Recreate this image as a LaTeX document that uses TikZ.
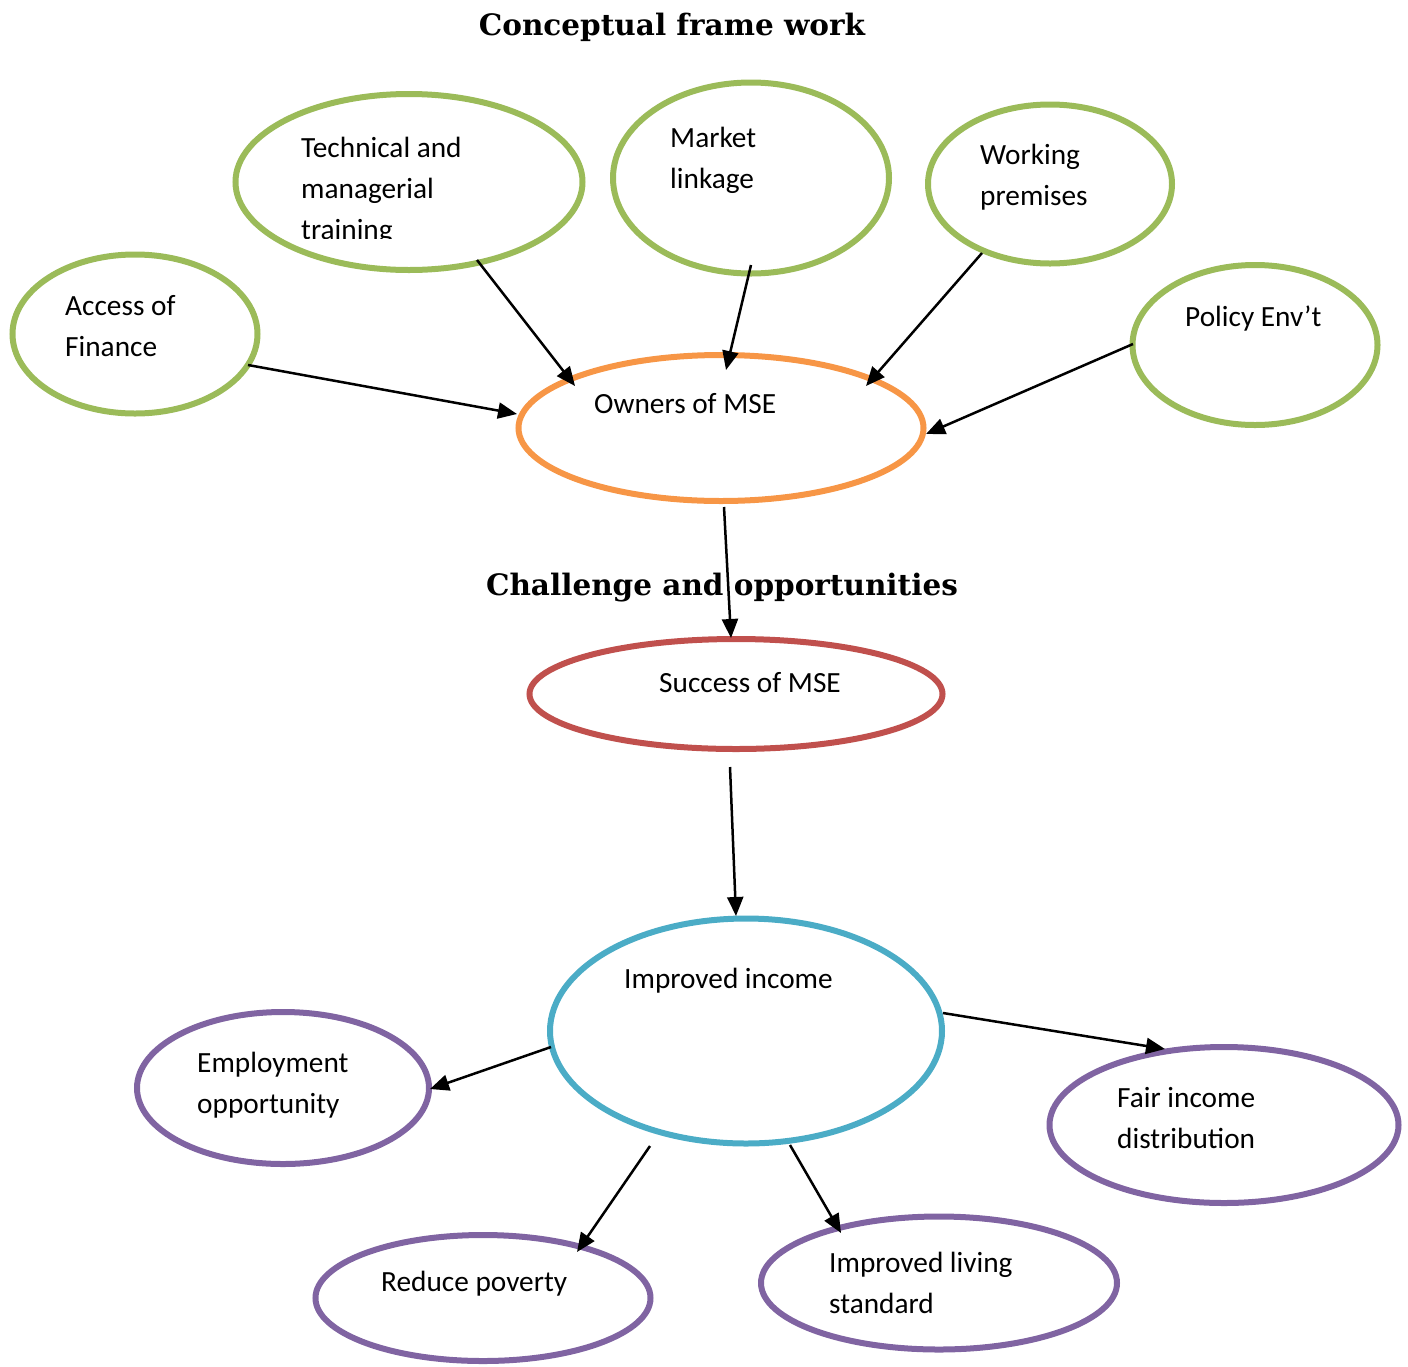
\documentclass[tikz,border=0pt]{standalone}
\usepackage{fontspec}
\setmainfont{Carlito}
\newfontfamily\titlefont{DejaVu Serif}
\usetikzlibrary{shapes.geometric,arrows.meta,calc}
\definecolor{cgreen}{HTML}{9BBB59}
\definecolor{corange}{HTML}{F79646}
\definecolor{cred}{HTML}{C0504D}
\definecolor{cblue}{HTML}{4BACC6}
\definecolor{cpurple}{HTML}{8064A2}
\tikzset{
  oval/.style={ellipse, draw=#1, line width=6pt, inner sep=0pt, outer sep=0pt},
  lbl/.style={anchor=base west, inner sep=0pt, align=left, font=\fontsize{29.3}{41}\selectfont},
  ttl/.style={anchor=base, inner sep=0pt, font=\titlefont\bfseries\fontsize{29.5}{34}\selectfont},
  arr/.style={line width=2.5pt, -{Triangle[length=19pt, width=16pt]}},
}
\begin{document}
\begin{tikzpicture}[x=1pt, y=-1pt]
\useasboundingbox (0,0) rectangle (1408,1366);
% titles
\node[ttl] (t1) at (672,35) {Conceptual frame work};
\node[ttl] (t2) at (722,595) {Challenge and opportunities};
% ellipses
\node[oval=cgreen, minimum width=347pt, minimum height=176pt] (tech) at (409,182) {};
\node[oval=cgreen, minimum width=276pt, minimum height=191pt] (market) at (751,178) {};
\node[oval=cgreen, minimum width=244pt, minimum height=159pt] (work) at (1050,184) {};
\node[oval=cgreen, minimum width=245pt, minimum height=159pt] (access) at (135,334) {};
\node[oval=cgreen, minimum width=245pt, minimum height=160pt] (policy) at (1255,345) {};
\node[oval=corange, minimum width=405pt, minimum height=146pt] (owners) at (721,428) {};
\node[oval=cred, minimum width=413pt, minimum height=110pt] (success) at (736,694) {};
\node[oval=cblue, minimum width=392pt, minimum height=225pt] (income) at (746,1031) {};
\node[oval=cpurple, minimum width=292pt, minimum height=152pt] (employ) at (283,1088) {};
\node[oval=cpurple, minimum width=349pt, minimum height=156pt] (fair) at (1224,1125) {};
\node[oval=cpurple, minimum width=335pt, minimum height=126pt] (reduce) at (483,1298) {};
\node[oval=cpurple, minimum width=356pt, minimum height=133pt] (living) at (939,1283) {};
% labels (anchor = baseline of the last line)
\begin{scope}
\clip (233,92) rectangle (585,238);
\node[lbl] (techT) at (301,239) {Technical and\\managerial\\training};
\end{scope}
\node[lbl] (marketT) at (670,188) {Market\\linkage};
\node[lbl] (workT) at (980,205) {Working\\premises};
\node[lbl] (accessT) at (65,356) {Access of\\Finance};
\node[lbl] (policyT) at (1185,326) {Policy Env’t};
\node[lbl] (ownersT) at (594,413) {Owners of MSE};
\node[lbl] (successT) at (659,692) {Success of MSE};
\node[lbl] (incomeT) at (624,988) {Improved income};
\node[lbl] (employT) at (197,1113) {Employment\\opportunity};
\node[lbl] (fairT) at (1117,1148) {Fair income\\distribution};
\node[lbl] (reduceT) at (381,1291) {Reduce poverty};
\node[lbl] (livingT) at (829,1313) {Improved living\\standard};
% connectors
\draw[arr] ($(tech)+(68,78)$) -- ($(owners)+(-146,-42)$);
\draw[arr] ($(market)+(0,87)$) -- ($(owners)+(5,-58)$);
\draw[arr] ($(work)+(-68,69)$) -- ($(owners)+(145,-42)$);
\draw[arr] ($(access)+(113,31)$) -- ($(owners)+(-204,-14)$);
\draw[arr] ($(policy)+(-122,-1)$) -- ($(owners)+(205,6)$);
\draw[arr] ($(owners)+(3,79)$) -- ($(success)+(-5,-56)$);
\draw[arr] ($(success)+(-6,73)$) -- ($(income)+(-10,-115)$);
\draw[arr] ($(income)+(-195,16)$) -- ($(employ)+(147,1)$);
\draw[arr] ($(income)+(197,-18)$) -- ($(fair)+(-59,-76)$);
\draw[arr] ($(income)+(-96,115)$) -- ($(reduce)+(94,-46)$);
\draw[arr] ($(income)+(44,114)$) -- ($(living)+(-98,-50)$);
\end{tikzpicture}
\end{document}
